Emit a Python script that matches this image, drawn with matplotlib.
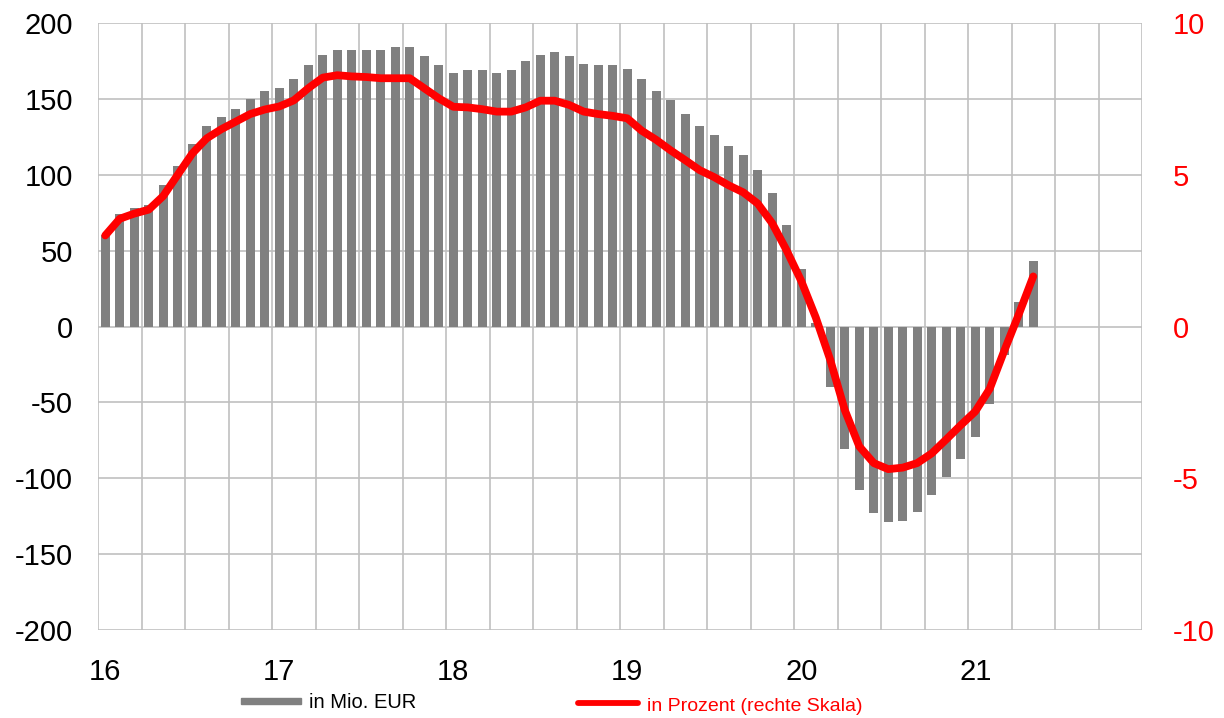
import matplotlib.pyplot as plt
from matplotlib.lines import Line2D
from matplotlib.patches import Rectangle
from matplotlib.ticker import MultipleLocator, FixedLocator
import numpy as np

# =========================
# DATA (monthly, Jan 2016 - May 2021)
# =========================

change_mio_eur = [
    60, 74, 78, 80, 93, 106, 120, 132, 138, 143, 150, 155,
    157, 163, 172, 179, 182, 182, 182, 182, 184, 184, 178, 172,
    167, 169, 169, 167, 169, 175, 179, 181, 178, 173, 172, 172,
    170, 163, 155, 149, 140, 132, 126, 119, 113, 103, 88, 67,
    38, 2, -40, -81, -108, -123, -129, -128, -122, -111, -99, -87,
    -73, -51, -19, 16, 43,
]

change_percent = [
    3.0, 3.55, 3.72, 3.85, 4.3, 5.0, 5.7, 6.2, 6.5, 6.75, 7.0, 7.15,
    7.25, 7.45, 7.85, 8.2, 8.28, 8.24, 8.22, 8.18, 8.18, 8.18, 7.85, 7.52,
    7.24, 7.22, 7.16, 7.08, 7.08, 7.22, 7.44, 7.44, 7.3, 7.08, 7.0, 6.94,
    6.86, 6.45, 6.15, 5.8, 5.48, 5.15, 4.92, 4.65, 4.42, 4.05, 3.4, 2.5,
    1.5, 0.3, -1.1, -2.75, -3.95, -4.5, -4.7, -4.65, -4.5, -4.18, -3.72, -3.25,
    -2.8, -2.05, -0.8, 0.4, 1.65,
]

year_labels = ["16", "17", "18", "19", "20", "21"]
months_on_axis = 72

BAR_COLOR = "#808080"
LINE_COLOR = "#ff0000"
GRID_COLOR = "#c0c0c0"

# =========================
# PLOTTING
# =========================

plt.rcParams["font.family"] = ["Liberation Sans", "DejaVu Sans"]
plt.rcParams["axes.unicode_minus"] = False

fig = plt.figure(figsize=(12.24, 7.18), dpi=100)
ax = fig.add_axes([98 / 1224, 88 / 718, 1044 / 1224, 607 / 718])

x = np.arange(len(change_mio_eur)) + 0.5
ax.bar(x, change_mio_eur, width=0.62, color=BAR_COLOR, zorder=2)

ax.set_xlim(0, months_on_axis)
ax.set_ylim(-200, 200)
ax.yaxis.set_major_locator(MultipleLocator(50))
ax.xaxis.set_major_locator(FixedLocator([12 * i + 0.5 for i in range(len(year_labels))]))
ax.set_xticklabels(year_labels)
ax.xaxis.set_minor_locator(MultipleLocator(3))

ax.set_axisbelow(True)
ax.grid(True, axis="y", which="major", color=GRID_COLOR, linewidth=1.2)
ax.grid(True, axis="x", which="minor", color=GRID_COLOR, linewidth=1.2)
ax.grid(False, axis="x", which="major")
for side in ["top", "bottom", "left", "right"]:
    ax.spines[side].set_visible(False)
ax.tick_params(axis="both", which="both", length=0, labelsize=21)
ax.tick_params(axis="y", pad=18)
ax.tick_params(axis="x", pad=20)

ax2 = ax.twinx()
ax2.plot(x, change_percent, color=LINE_COLOR, linewidth=5.6,
         solid_joinstyle="round", solid_capstyle="round", zorder=3)
ax2.set_ylim(-10, 10)
ax2.yaxis.set_major_locator(MultipleLocator(5))
for side in ["top", "bottom", "left", "right"]:
    ax2.spines[side].set_visible(False)
ax2.tick_params(axis="y", length=0, labelsize=21, labelcolor=LINE_COLOR, pad=22)

# =========================
# LEGEND
# =========================

fig.add_artist(Rectangle((241 / 1224, 14 / 718), 60 / 1224, 6 / 718,
                         transform=fig.transFigure, color=BAR_COLOR))
fig.text(309 / 1224, 10 / 718, "in Mio. EUR", fontsize=14.5, color="black",
         va="baseline", ha="left")

fig.add_artist(Line2D([578 / 1224, 638 / 1224], [15 / 718, 15 / 718],
                      transform=fig.transFigure, color=LINE_COLOR,
                      linewidth=4.2, solid_capstyle="round"))
fig.text(647 / 1224, 7 / 718, "in Prozent (rechte Skala)", fontsize=14,
         color=LINE_COLOR, va="baseline", ha="left")

fig.savefig("out.png", dpi=100)
plt.close(fig)
